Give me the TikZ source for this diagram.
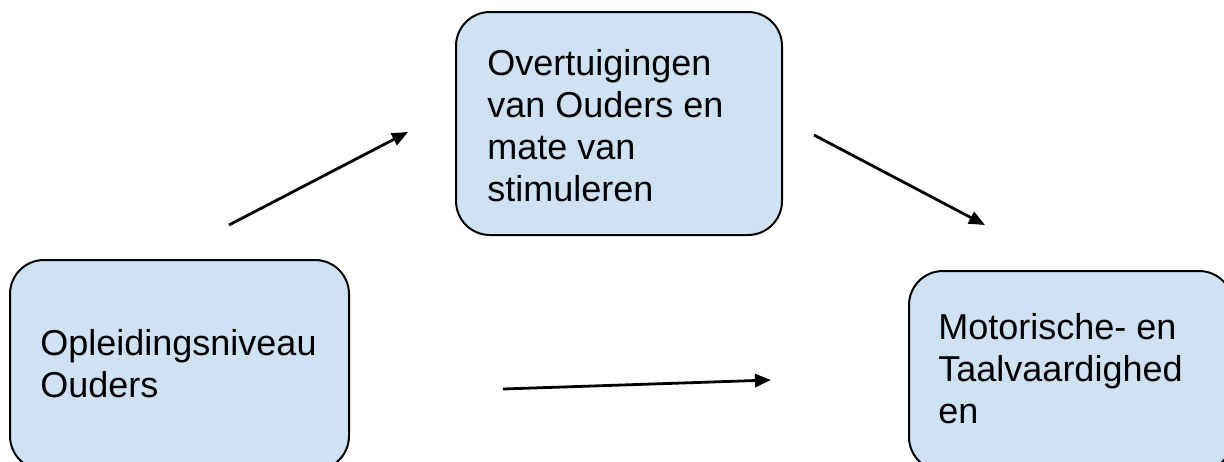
\documentclass[tikz,border=0pt]{standalone}
\usepackage{fontspec}
\setmainfont{Liberation Sans}
\usetikzlibrary{arrows.meta}
\definecolor{boxfill}{HTML}{CFE2F3}
\begin{document}
\begin{tikzpicture}[x=0.5pt,y=-0.5pt,
  box/.style={draw=black, line width=1pt, fill=boxfill, rounded corners=17pt,
    anchor=north west, inner sep=0pt},
  % texts are placed by the baseline of their last line
  boxtext/.style={anchor=base west, align=left, inner sep=0pt,
    font=\fontsize{18}{21}\selectfont},
  link/.style={line width=1.4pt, -{Triangle[length=8pt,width=6.5pt]}}]
\useasboundingbox (0,0) rectangle (1224,461);
\begin{scope}
  \clip (0,0) rectangle (1224,461);
  % the three boxes
  \node[box, minimum width=169.5pt, minimum height=105pt] (opl) at (9,259) {};
  \node[box, minimum width=163pt, minimum height=111.5pt] (over) at (455,11) {};
  \node[box, minimum width=162pt, minimum height=100pt] (mot) at (908,270) {};
  % their texts
  \node[boxtext] (opltext) at (40,397) {Opleidingsniveau\\Ouders};
  \node[boxtext] (overtext) at (487,201) {Overtuigingen\\van Ouders en\\mate van\\stimuleren};
  \node[boxtext] (mottext) at (938,423) {Motorische- en\\Taalvaardighed\\en};
\end{scope}
% arrow end points
\coordinate (a1s) at (229,225);
\coordinate (a1e) at (408,132);
\coordinate (a2s) at (814,135);
\coordinate (a2e) at (985,225);
\coordinate (a3s) at (503,389);
\coordinate (a3e) at (771,380);
\draw[link] (a1s) -- (a1e);
\draw[link] (a2s) -- (a2e);
\draw[link] (a3s) -- (a3e);
\end{tikzpicture}
\end{document}
